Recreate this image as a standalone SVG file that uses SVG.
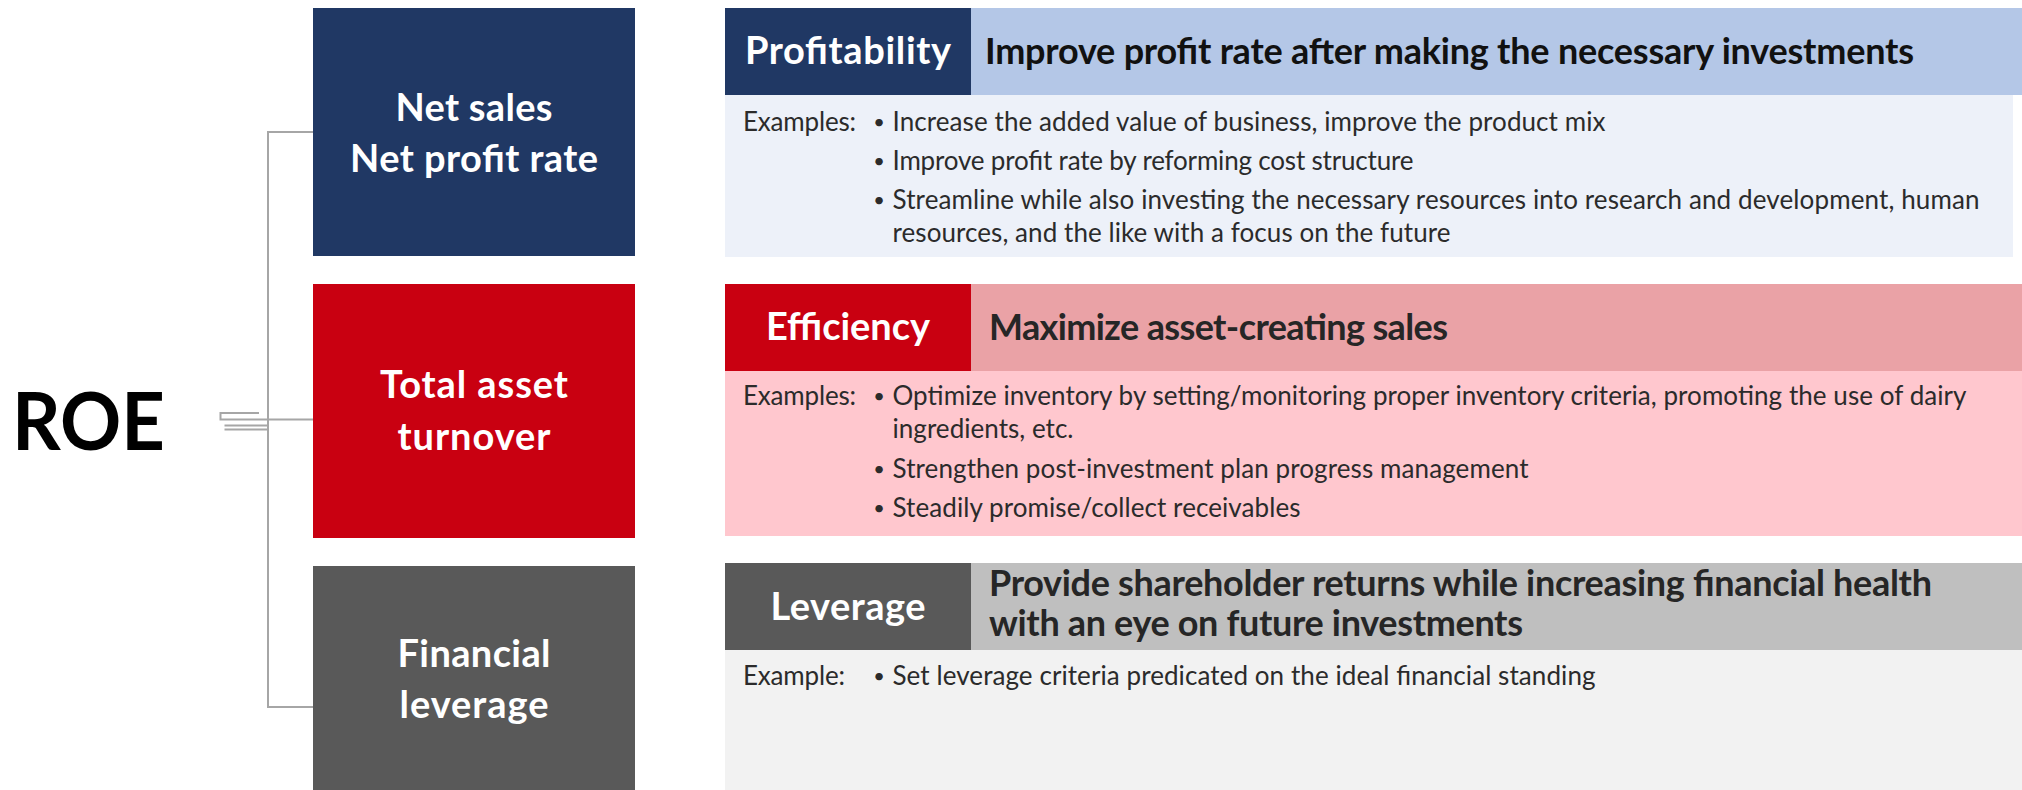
<svg xmlns="http://www.w3.org/2000/svg" width="2022" height="790" viewBox="0 0 2022 790">
  <style>
    .lbl { font-family: Lato, "Open Sans", sans-serif; font-weight: 700; font-size: 38px; fill: #ffffff; text-anchor: middle; }
    .tag { font-family: Lato, "Open Sans", sans-serif; font-weight: 700; font-size: 38px; fill: #ffffff; text-anchor: middle; }
    .ttl { font-family: Lato, "Open Sans", sans-serif; font-weight: 700; font-size: 36px; fill: #262626; }
    .body { font-family: Lato, "Open Sans", sans-serif; font-size: 26px; fill: #2b2b2b; }
    .bul { font-family: Lato, "Open Sans", sans-serif; font-size: 20px; fill: #2b2b2b; text-anchor: middle; }
    .roe { font-family: Lato, "Open Sans", sans-serif; font-weight: 700; font-size: 80px; fill: #000000; }
    .conn { fill: none; stroke: #A6A6A6; stroke-width: 2; }
  </style>
  <rect width="2022" height="790" fill="#ffffff"/>

  <g id="connectors">
    <path class="conn" d="M313,132 H268 V707 H313"/>
    <path class="conn" d="M259,413 H220.5 V419.5 H313"/>
    <path class="conn" d="M224.5,425.5 H268"/>
    <path class="conn" d="M224.5,429.5 H268"/>
  </g>

  <g id="roe">
    <text class="roe" x="12" y="450" textLength="153" lengthAdjust="spacingAndGlyphs">ROE</text>
  </g>

  <g id="node-net-sales">
    <rect x="313" y="8" width="322" height="248" fill="#203864"/>
    <text class="lbl" x="474" y="121" textLength="157">Net sales</text>
    <text class="lbl" x="474" y="172" textLength="248">Net profit rate</text>
  </g>

  <g id="node-asset-turnover">
    <rect x="313" y="284" width="322" height="254" fill="#C90011"/>
    <text class="lbl" x="474" y="398" textLength="188">Total asset</text>
    <text class="lbl" x="474" y="450" textLength="153">turnover</text>
  </g>

  <g id="node-financial-leverage">
    <rect x="313" y="566" width="322" height="224" fill="#595959"/>
    <text class="lbl" x="474" y="667" textLength="153">Financial</text>
    <text class="lbl" x="474" y="718" textLength="149">leverage</text>
  </g>

  <g id="panel-profitability">
    <rect x="725" y="95" width="1288" height="162" fill="#EDF1F9"/>
    <rect x="971" y="8" width="1051" height="87" fill="#B4C7E7"/>
    <rect x="725" y="8" width="246" height="87" fill="#203864"/>
    <text class="tag" x="848" y="64" textLength="206">Profitability</text>
    <text class="ttl" x="985" y="64" textLength="929" style="fill:#111111">Improve profit rate after making the necessary investments</text>
    <text class="body" x="743" y="131" textLength="113">Examples:</text>
    <text class="bul" x="879" y="129">•</text>
    <text class="body" x="892.5" y="131" textLength="713">Increase the added value of business, improve the product mix</text>
    <text class="bul" x="879" y="168">•</text>
    <text class="body" x="892.5" y="170" textLength="521">Improve profit rate by reforming cost structure</text>
    <text class="bul" x="879" y="207">•</text>
    <text class="body" x="892.5" y="209" textLength="1087">Streamline while also investing the necessary resources into research and development, human</text>
    <text class="body" x="892.5" y="242" textLength="558">resources, and the like with a focus on the future</text>
  </g>

  <g id="panel-efficiency">
    <rect x="725" y="371" width="1297" height="165" fill="#FFC7CE"/>
    <rect x="971" y="284" width="1051" height="87" fill="#EAA2A6"/>
    <rect x="725" y="284" width="246" height="87" fill="#C90011"/>
    <text class="tag" x="848" y="340" textLength="164">Efficiency</text>
    <text class="ttl" x="989" y="340" textLength="459">Maximize asset-creating sales</text>
    <text class="body" x="743" y="405" textLength="113">Examples:</text>
    <text class="bul" x="879" y="403">•</text>
    <text class="body" x="892.5" y="405" textLength="1074">Optimize inventory by setting/monitoring proper inventory criteria, promoting the use of dairy</text>
    <text class="body" x="892.5" y="438" textLength="181">ingredients, etc.</text>
    <text class="bul" x="879" y="476">•</text>
    <text class="body" x="892.5" y="478" textLength="636">Strengthen post-investment plan progress management</text>
    <text class="bul" x="879" y="515">•</text>
    <text class="body" x="892.5" y="517" textLength="408">Steadily promise/collect receivables</text>
  </g>

  <g id="panel-leverage">
    <rect x="725" y="650" width="1297" height="140" fill="#F2F2F2"/>
    <rect x="971" y="563" width="1051" height="87" fill="#BFBFBF"/>
    <rect x="725" y="563" width="246" height="87" fill="#595959"/>
    <text class="tag" x="848" y="620" textLength="155">Leverage</text>
    <text class="ttl" x="989" y="596" textLength="943">Provide shareholder returns while increasing financial health</text>
    <text class="ttl" x="989" y="636" textLength="534">with an eye on future investments</text>
    <text class="body" x="743" y="685" textLength="102">Example:</text>
    <text class="bul" x="879" y="683">•</text>
    <text class="body" x="892.5" y="685" textLength="703">Set leverage criteria predicated on the ideal financial standing</text>
  </g>
</svg>
